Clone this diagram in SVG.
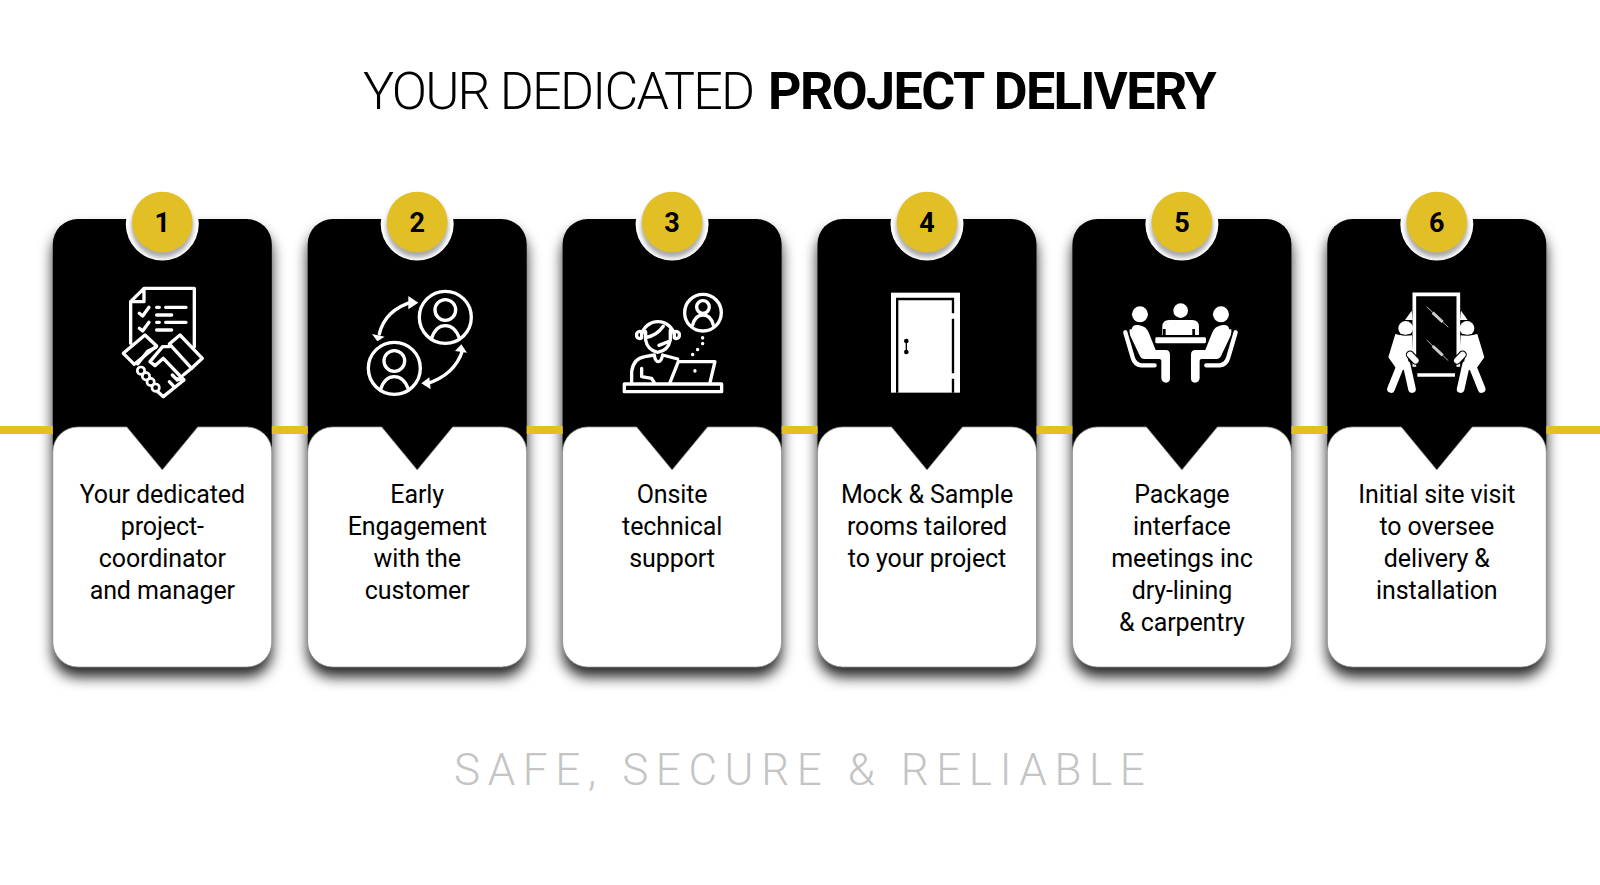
<svg xmlns="http://www.w3.org/2000/svg" xmlns:xlink="http://www.w3.org/1999/xlink" width="1600" height="885" viewBox="0 0 1600 885">
<style>
text{font-family:Roboto,"Liberation Sans",sans-serif}
.t{font-size:52px;font-weight:300;fill:#000;letter-spacing:-1.75px}
.tb{font-weight:700;letter-spacing:-1.55px}
.b{font-size:25px;fill:#000;text-anchor:middle;font-weight:400;letter-spacing:-.1px}
.n{font-size:27px;font-weight:700;fill:#000;text-anchor:middle}
.f{font-size:44px;font-weight:300;fill:#c4c4c4;letter-spacing:7.6px}
.s{fill:none;stroke:#fff;stroke-width:10;stroke-linecap:round;stroke-linejoin:round}
.w{fill:#fff}
.k{fill:#000}
.ln{fill:#e2bf25}
</style>
<defs>
<filter id="sh" x="-30%" y="-20%" width="160%" height="140%"><feDropShadow dx="0" dy="10" stdDeviation="7" flood-color="#000" flood-opacity=".85"/></filter>
<filter id="bl" x="-30%" y="-30%" width="160%" height="160%"><feGaussianBlur stdDeviation="2"/></filter>
<clipPath id="rc"><circle cx="0" cy="2" r="36.5"/></clipPath>
<g id="card">
<rect x="-109.500" y="-3" width="219" height="448" rx="25" class="k" filter="url(#sh)"/>
<path class="w" stroke="#999" stroke-width=".8" d="M-109.500 230a25 25 0 0 1 25-25h49l35.500 43 35.500-43h49a25 25 0 0 1 25 25v190a25 25 0 0 1-25 25h-169a25 25 0 0 1-25-25z"/>
<circle cy="2" r="36.500" class="w"/>
<g clip-path="url(#rc)"><circle cy="4.500" r="31" fill="#aaa" filter="url(#bl)"/></g>
<circle r="30.300" fill="#e2bf25"/>
</g>
</defs>
<rect width="1600" height="885" fill="#fff"/>
<text class="t" x="363" y="109">YOUR DEDICATED <tspan class="tb" x="768">PROJECT DELIVERY</tspan></text>

<g id="node1" transform="translate(162.300 222)"><use href="#card"/><text class="n" y="10">1</text>
<text class="b" y="281">Your dedicated</text><text class="b" y="313">project-</text><text class="b" y="345">coordinator</text><text class="b" y="377">and manager</text></g>
<g id="node2" transform="translate(417.200 222)"><use href="#card"/><text class="n" y="10">2</text>
<text class="b" y="281">Early</text><text class="b" y="313">Engagement</text><text class="b" y="345">with the</text><text class="b" y="377">customer</text></g>
<g id="node3" transform="translate(672.100 222)"><use href="#card"/><text class="n" y="10">3</text>
<text class="b" y="281">Onsite</text><text class="b" y="313">technical</text><text class="b" y="345">support</text></g>
<g id="node4" transform="translate(927 222)"><use href="#card"/><text class="n" y="10">4</text>
<text class="b" y="281">Mock &amp; Sample</text><text class="b" y="313">rooms tailored</text><text class="b" y="345">to your project</text></g>
<g id="node5" transform="translate(1181.900 222)"><use href="#card"/><text class="n" y="10">5</text>
<text class="b" y="281">Package</text><text class="b" y="313">interface</text><text class="b" y="345">meetings inc</text><text class="b" y="377">dry-lining</text><text class="b" y="409">&amp; carpentry</text></g>
<g id="node6" transform="translate(1436.800 222)"><use href="#card"/><text class="n" y="10">6</text>
<text class="b" y="281">Initial site visit</text><text class="b" y="313">to oversee</text><text class="b" y="345">delivery &amp;</text><text class="b" y="377">installation</text></g>

<g id="connectors">
<rect class="ln" x="0" y="426" width="52.800" height="8"/><rect class="ln" x="271.800" y="426" width="36" height="8"/><rect class="ln" x="526.700" y="426" width="36" height="8"/><rect class="ln" x="781.600" y="426" width="36" height="8"/><rect class="ln" x="1036.500" y="426" width="36" height="8"/><rect class="ln" x="1291.400" y="426" width="36" height="8"/><rect class="ln" x="1546.300" y="426" width="54" height="8"/>
</g>

<g id="icon1" transform="translate(0 180) scale(.3333)">
<path class="s" d="M392 490V365L432 325H583V500M432 325V365H392M418 400l10 8 19-26M418 445l10 8 19-26M470 382h8M497 382h61M470 405h45M470 427h8M497 427h61M470 450h45"/>
<path class="s" d="M435 465l35 33-67 55-33-33zM540 465l67 70-32 30-67-73z"/>
<path class="s" d="M468 502l-25 12-30 38M508 500h-20l-38 45 15 12 25-22 62 65-62 50-18-16M550 600l-20-4M532 600l-15-15M520 618l-12-13M575 565l-25 20"/>
<g class="s" style="fill:#000;stroke-width:8"><circle cx="423" cy="572" r="11"/><circle cx="438" cy="589" r="11"/><circle cx="452" cy="606" r="11"/><circle cx="467" cy="623" r="11"/></g>
</g>
<g id="icon2" transform="translate(340 260) scale(.3333)">
<circle class="s" cx="316" cy="172" r="78"/><circle class="s" cx="316" cy="150" r="31"/><path class="s" d="M275 235q12-38 41-38t42 38"/>
<circle class="s" cx="163" cy="325" r="78"/><circle class="s" cx="163" cy="303" r="31"/><path class="s" d="M122 388q12-38 41-38t42 38"/>
<path class="s" d="M118 222Q135 150 218 125M368 270Q345 345 258 372"/>
<path class="w" d="M96 222l38 8-22 14zM205 108l30 20-30 20zM381 278l-36-5 19-20zM268 352l-24 18 28 18z"/>
</g>
<g id="icon3" transform="translate(340 260) scale(.3333)">
<circle class="s" cx="1089" cy="158" r="55"/><circle class="s" cx="1089" cy="141" r="19"/><path class="s" d="M1058 195q8-30 31-30t31 30"/>
<path class="s" d="M1088 233v1M1088 250v1M1073 268v1M1058 283v1"/>
<path class="s" d="M905 225a50 50 0 0 1 98 0M890 225a9 9 0 0 1 15-8v16a9 9 0 0 1-15-8zM1018 225a9 9 0 0 0-15-8v16a9 9 0 0 0 15-8zM917 215v25q5 30 36 37q32-5 38-37v-30M920 232q30-5 50-33M990 243l-33 13"/>
<path class="s" d="M875 368V335q5-40 40-45l28-5q3 20 12 20t13-20l45 12M905 325v25l30 5 8 13M990 368l25-63h110l-15 63M1065 332v1"/>
<rect class="s" x="853" y="372" width="292" height="23"/>
</g>
<g id="icon4" transform="translate(860 270) scale(.3333)">
<rect class="w" x="93" y="68" width="207" height="300"/>
<path fill="none" stroke="#000" stroke-width="7" d="M111.500 368V87H279V130M279 146V310M279 326V368"/>
<path fill="none" stroke="#000" stroke-width="4" d="M139 213V246"/><circle class="k" cx="139" cy="213" r="7"/><circle class="k" cx="139" cy="246" r="7"/>
</g>
<g id="icon5" transform="translate(860 270) scale(.3333)">
<circle class="w" cx="962" cy="122" r="22"/>
<path class="w" d="M907 195v-25q0-20 20-20h70q20 0 20 20v25h-12v-18h-8v18h-80v-18h-8v18z"/>
<rect class="w" x="886" y="202" width="152" height="18" rx="4"/>
<g id="p5"><circle class="w" cx="840" cy="133" r="24"/>
<path class="w" d="M815 178q2-15 20-13q25 3 32 25l20 50h30q13 0 13 15v70q0 13-12 13t-14-13v-53q0-5-6-5h-44q-12 0-17-15l-26-55q-4-10-2-19z"/>
<path class="s" style="stroke-width:13" d="M796 187l22 75q6 22 26 24h40"/></g>
<use href="#p5" transform="translate(1923 0) scale(-1 1)"/>
</g>
<g id="icon6" transform="translate(1340 270) scale(.3333)">
<path fill="none" stroke="#fff" stroke-width="11" d="M223 290V73H355V290M232 315H345"/>
<path stroke="#fff" stroke-width="2" d="M260 110l65 62M260 210l65 62"/>
<path stroke="#ccc" stroke-width="9" d="M278 128l30 28M278 228l30 28"/>
<g id="p6">
<circle class="w" cx="197" cy="175" r="22"/>
<path class="w" d="M195 150l20-28 3 28zM166 192q25 6 50 4l3 50-18 8 4 18-8 22 4 6H172l-27-38z"/>
<path fill="none" stroke="#000" stroke-width="3" d="M175 192q22 8 40 0"/>
<path class="s" style="stroke-width:23" d="M180 290l-27 67M200 285l16 72"/>
<path class="s" style="stroke-width:25;stroke:#000" d="M210 254l17 18"/>
<path class="s" style="stroke-width:18" d="M210 254l17 18"/>
</g>
<use href="#p6" transform="translate(578 0) scale(-1 1)"/>
</g>
<text class="f" x="454" y="785">SAFE, SECURE &amp; RELIABLE</text>
</svg>
